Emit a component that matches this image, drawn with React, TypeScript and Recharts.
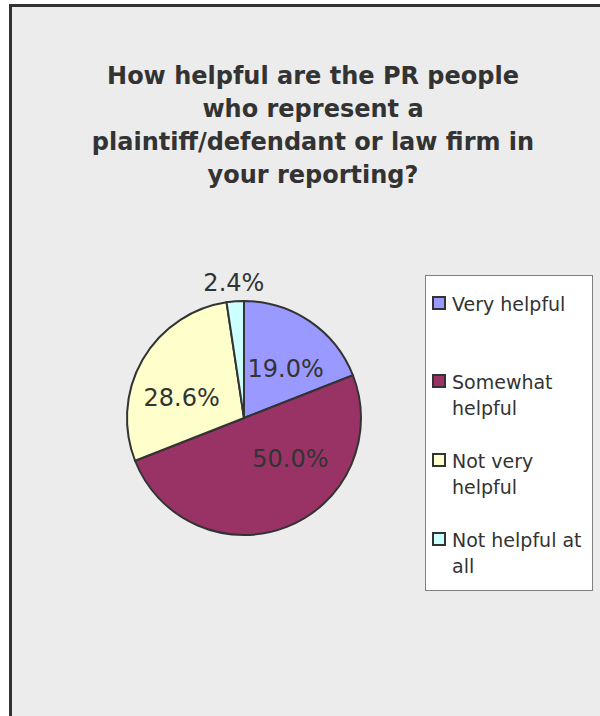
import React from "react";
import { PieChart, Pie, Cell, Legend } from "recharts";

// responses out of 42 reporters -> 19.0 / 50.0 / 28.6 / 2.4 %
const categories = ["Very helpful", "Somewhat helpful", "Not very helpful", "Not helpful at all"];
const counts = [8, 21, 12, 1];
const colors = ["#9999ff", "#993366", "#ffffcc", "#ccffff"];

const titleLines = [
  "How helpful are the PR people",
  "who represent a",
  "plaintiff/defendant or law firm in",
  "your reporting?",
];

// Excel "best fit" label placement: nudge from the mid angle, radius as share of outer radius
const labelAngleShift = [-6, 27, 12, 0];
const labelRadius = [0.55, 0.53, 0.56, 1.16];

const FONT = "'DejaVu Sans', Verdana, sans-serif";
const INK = "#333333";

const RADIAN = Math.PI / 180;

function renderLabel(props: any) {
  const { cx, cy, midAngle, outerRadius, percent, index } = props;
  const a = (midAngle + labelAngleShift[index]) * RADIAN;
  const r = outerRadius * labelRadius[index];
  const x = cx + r * Math.cos(a);
  const y = cy - r * Math.sin(a);
  return (
    <text
      x={x}
      y={y}
      textAnchor="middle"
      dominantBaseline="central"
      fontFamily={FONT}
      fontSize={24}
      fill={INK}
    >
      {(percent * 100).toFixed(1)}%
    </text>
  );
}

function LegendBox() {
  return (
    <div
      style={{
        boxSizing: "border-box",
        width: 168,
        height: 316,
        background: "#ffffff",
        border: "1px solid #808080",
        paddingTop: 14.5,
        fontFamily: FONT,
        fontSize: 19,
        lineHeight: "26px",
        color: INK,
      }}
    >
      {categories.map((c, i) => (
        <div key={c} style={{ position: "relative", height: 78.7 }}>
          <span
            style={{
              position: "absolute",
              left: 6,
              top: 5,
              width: 10,
              height: 10,
              border: "2px solid #333",
              background: colors[i],
            }}
          />
          <div style={{ marginLeft: 26, width: 138 }}>{c}</div>
        </div>
      ))}
    </div>
  );
}

export default function App() {
  const data = categories.map((name, i) => ({ name, value: counts[i] }));

  return (
    <div
      style={{
        position: "absolute",
        left: 0,
        top: 0,
        width: 600,
        height: 716,
        overflow: "hidden",
        background: "#ffffff",
      }}
    >
      <div
        style={{
          position: "absolute",
          left: 9,
          top: 4,
          width: 640,
          height: 760,
          border: "3px solid #333",
          background: "#ececec",
        }}
      />
      <div
        style={{
          position: "absolute",
          left: 0,
          top: 60,
          width: 626,
          textAlign: "center",
          fontFamily: FONT,
          fontWeight: "bold",
          fontSize: 24,
          lineHeight: "33px",
          color: INK,
        }}
      >
        {titleLines.map((t) => (
          <div key={t}>{t}</div>
        ))}
      </div>
      <div style={{ position: "absolute", left: 0, top: 0 }}>
        <PieChart width={600} height={716} margin={{ top: 0, right: 0, bottom: 0, left: 0 }}>
          <Pie
            data={data}
            dataKey="value"
            nameKey="name"
            cx={244}
            cy={418}
            outerRadius={117}
            startAngle={90}
            endAngle={-270}
            stroke="#333"
            strokeWidth={2}
            label={renderLabel}
            labelLine={false}
            isAnimationActive={false}
          >
            {data.map((d, i) => (
              <Cell key={d.name} fill={colors[i]} />
            ))}
          </Pie>
          <Legend
            layout="vertical"
            align="right"
            verticalAlign="top"
            content={() => <LegendBox />}
            wrapperStyle={{ left: 425, top: 275, width: 168, height: 316, right: "auto" }}
          />
        </PieChart>
      </div>
    </div>
  );
}
